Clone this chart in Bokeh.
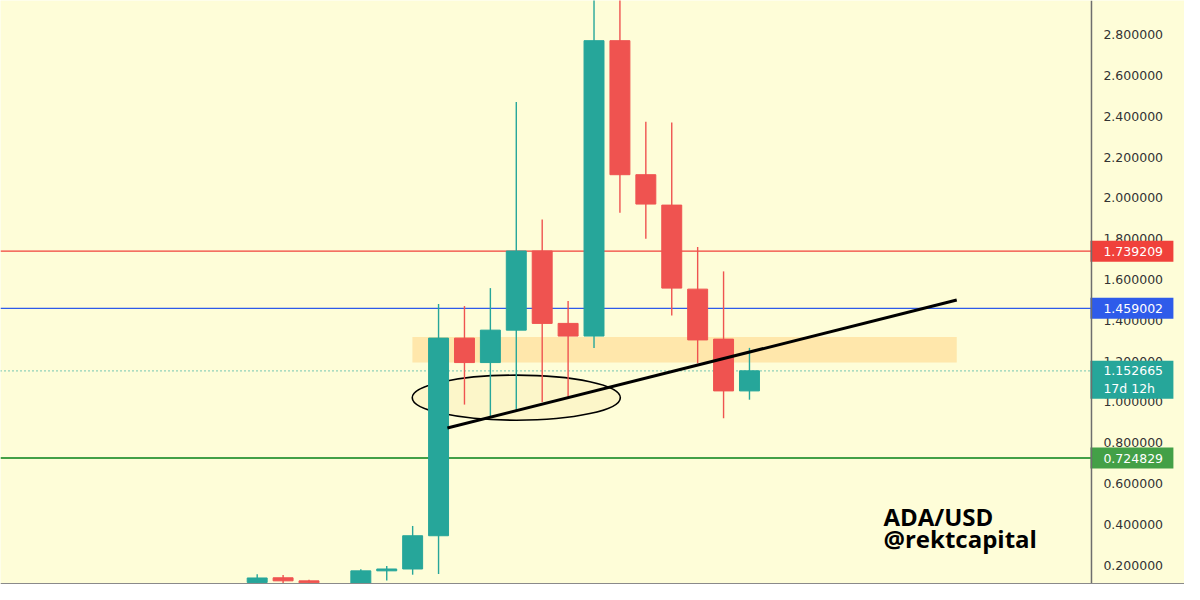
from bokeh.plotting import figure
from bokeh.models import ColumnDataSource, Range1d, Span, Label, BoxAnnotation
from bokeh.core.properties import value
from bokeh.embed import file_html
from bokeh.resources import INLINE

# ---- data (monthly ADA/USD candles) ----
months = ["2020-07", "2020-08", "2020-09", "2020-10", "2020-11", "2020-12",
          "2021-01", "2021-02", "2021-03", "2021-04", "2021-05", "2021-06",
          "2021-07", "2021-08", "2021-09", "2021-10", "2021-11", "2021-12",
          "2022-01", "2022-02"]
opens  = [0.115, 0.138, 0.123, 0.102, 0.100, 0.172, 0.181, 0.344, 1.313, 1.193,
          1.352, 1.740, 1.385, 1.323, 2.771, 2.114, 1.965, 1.553, 1.308, 1.054]
highs  = [0.155, 0.152, 0.128, 0.103, 0.180, 0.196, 0.392, 1.480, 1.470, 1.558,
          2.470, 1.894, 1.495, 3.000, 3.100, 2.373, 2.370, 1.760, 1.640, 1.265]
lows   = [0.100, 0.110, 0.095, 0.092, 0.095, 0.124, 0.153, 0.157, 0.987, 0.925,
          0.953, 1.000, 1.025, 1.265, 1.927, 1.800, 1.424, 1.190, 0.920, 1.011]
closes = [0.137, 0.123, 0.113, 0.100, 0.172, 0.181, 0.344, 1.313, 1.193, 1.352,
          1.740, 1.385, 1.323, 2.771, 2.114, 1.970, 1.558, 1.304, 1.054, 1.152665]

level_values = [1.739209, 1.459002, 0.724829]
level_colors = ["#F0413B", "#2E5BEA", "#43A047"]
last_price = 1.152665
countdown = "17d 12h"
tick_values = [0.2, 0.4, 0.6, 0.8, 1.0, 1.2, 1.4, 1.6, 1.8, 2.0, 2.2, 2.4, 2.6, 2.8]
title_lines = ["ADA/USD", "@rektcapital"]

UP = "#26A69A"
DOWN = "#EF5350"
BG = "#FEFDD8"
FONT = "DejaVu Sans"

X0, X1 = -9.907, 35.79       # visible candle-index range
AXIS_X = 32.20               # price-scale border
LABEL_X = 32.66              # left edge of price-scale text
BOX_X = 33.76                # centre of price boxes

idx = list(range(len(months)))
colors = [UP if c >= o else DOWN for o, c in zip(opens, closes)]
src = ColumnDataSource(dict(
    x=idx, month=months, open=opens, high=highs, low=lows, close=closes,
    top=[max(o, c) for o, c in zip(opens, closes)],
    bottom=[min(o, c) for o, c in zip(opens, closes)],
    color=colors))

p = figure(width=1184, height=584, output_backend="svg", toolbar_location=None,
           x_axis_location=None, y_axis_location=None,
           x_range=Range1d(X0, X1), y_range=Range1d(0.105, 2.968),
           min_border=0)
p.background_fill_color = BG
p.border_fill_color = BG
p.outline_line_color = None
p.xgrid.visible = False
p.ygrid.visible = False

# highlighted zone
p.add_layout(BoxAnnotation(left=5.99, right=27.0, bottom=1.193, top=1.318,
                           fill_color="#FFD98E", fill_alpha=0.6, line_color=None,
                           level="underlay"))

# horizontal levels (up to the price scale)
p.segment(x0=[X0] * 3, x1=[AXIS_X] * 3, y0=level_values, y1=level_values,
          line_color=level_colors, line_width=[1.2, 1.2, 2])
p.segment(x0=[X0], x1=[AXIS_X], y0=[last_price], y1=[last_price],
          line_color=UP, line_width=1.2, line_dash="1 3")

# ellipse
p.ellipse(x=10.0, y=1.021, width=8.03, height=0.221, fill_color="#F7E49A",
          fill_alpha=0.25, line_color="black", line_width=1.6)

# candles
p.segment(x0="x", y0="low", x1="x", y1="high", color="color", line_width=1.4, source=src)
p.vbar(x="x", width=0.77, top="top", bottom="bottom", fill_color="color",
       line_color="color", line_width=1, source=src)

# trendline
p.line(x=[7.34, 27.0], y=[0.872, 1.500], line_color="black", line_width=3)

# price scale
p.add_layout(Span(location=AXIS_X, dimension="height", line_color="#6E6E6E", line_width=1.5))
p.add_layout(Span(location=0.108, dimension="width", line_color="#8A8A8A", line_width=2))
p.text(x=[LABEL_X] * len(tick_values), y=tick_values,
       text=[f"{t:.6f}" for t in tick_values], text_font=value(FONT),
       text_font_size="12.5px", text_color="#333333", text_baseline="middle",
       text_align="left")

# price boxes
p.rect(x=[BOX_X] * 3, y=level_values, width=83, height=21, width_units="screen",
       height_units="screen", fill_color=level_colors, line_color=None)
p.rect(x=[BOX_X], y=[last_price - 0.044], width=83, height=38, width_units="screen",
       height_units="screen", fill_color=UP, line_color=None)
p.text(x=[LABEL_X] * 3, y=level_values, text=[f"{v:.6f}" for v in level_values],
       text_font=value(FONT), text_font_size="12.5px", text_color="white",
       text_baseline="middle", text_align="left")
p.text(x=[LABEL_X, LABEL_X], y=[last_price, last_price - 0.087],
       text=[f"{last_price:.6f}", countdown], text_font=value(FONT),
       text_font_size="12.5px", text_color="white", text_baseline="middle",
       text_align="left")

# watermark text
p.add_layout(Label(x=24.17, y=0.440, text=title_lines[0], text_font="Open Sans",
                   text_font_style="bold", text_font_size="24px", text_color="black",
                   text_baseline="alphabetic"))
p.add_layout(Label(x=24.17, y=0.330, text=title_lines[1], text_font="Open Sans",
                   text_font_style="bold", text_font_size="24px", text_color="black",
                   text_baseline="alphabetic"))

open("out.html", "w").write(file_html(p, INLINE))
